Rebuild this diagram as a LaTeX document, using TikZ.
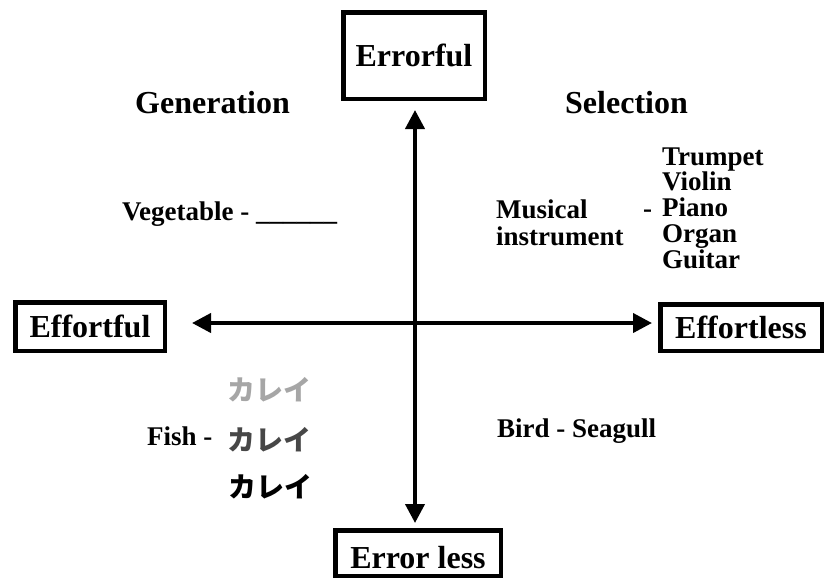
\documentclass[tikz,border=0pt]{standalone}
\usepackage{fontspec}
\setmainfont{Liberation Serif}
\newfontfamily\jp{Noto Sans CJK JP}
\usetikzlibrary{arrows.meta}

\tikzset{
  frame/.style={draw, line width=4.5pt, inner sep=0pt, text depth=0pt, text height=22pt,
                font=\fontsize{32}{32}\selectfont\bfseries},
  head/.style={anchor=base west, inner sep=0pt, font=\fontsize{32}{32}\selectfont\bfseries},
  word/.style={anchor=base west, inner sep=0pt, font=\fontsize{27}{27}\selectfont\bfseries},
  kana/.style={anchor=base west, inner sep=0pt, font=\fontsize{28}{28}\selectfont\jp\bfseries},
  axis/.style={line width=4pt, {Triangle[width=19pt,length=19pt]}-{Triangle[width=19pt,length=19pt]}}
}

\begin{document}
\begin{tikzpicture}[x=1pt, y=-1pt]
  \useasboundingbox (0,0) rectangle (825,581);

  % the four poles
  \node[frame, minimum width=141.5pt, minimum height=86.5pt] (errorful) at (414,55.5) {Errorful};
  \node[frame, minimum width=149.5pt, minimum height=48.5pt] (effortful) at (90,326.5) {Effortful};
  \node[frame, minimum width=161.5pt, minimum height=46.5pt] (effortless) at (741,327.5) {Effortless};
  \node[frame, minimum width=165.5pt, minimum height=45.5pt, text height=30pt] (errorless) at (418,553) {Error less};

  % axes
  \coordinate (top) at (415,110);
  \coordinate (bottom) at (415,523);
  \coordinate (left) at (192,323);
  \coordinate (right) at (652,323);
  \draw[axis] (top) -- (bottom);
  \draw[axis] (left) -- (right);

  % quadrant headings
  \node[head] (gen) at (135,113) {Generation};
  \node[head] (sel) at (565,113) {Selection};

  % generation, errorful
  \node[word] (veg) at (122,220) {Vegetable - \_\_\_\_\_\_};

  % selection, errorful
  \node[word] (mus1) at (496,218) {Musical};
  \node[word] (mus2) at (496,245) {instrument};
  \node[word] (dash) at (643,217) {-};
  \node[word] (i1) at (662,165) {Trumpet};
  \node[word] (i2) at (662,190.5) {Violin};
  \node[word] (i3) at (662,216.5) {Piano};
  \node[word] (i4) at (662,242.5) {Organ};
  \node[word] (i5) at (662,268) {Guitar};

  % generation, errorless
  \node[word] (fish) at (147,445) {Fish -};
  \node[kana, text=black!35] (k1) at (227,400) {カレイ};
  \node[kana, text=black!72] (k2) at (227,450) {カレイ};
  \node[kana] (k3) at (228,497) {カレイ};

  % selection, errorless
  \node[word] (bird) at (497,437) {Bird - Seagull};
\end{tikzpicture}
\end{document}
